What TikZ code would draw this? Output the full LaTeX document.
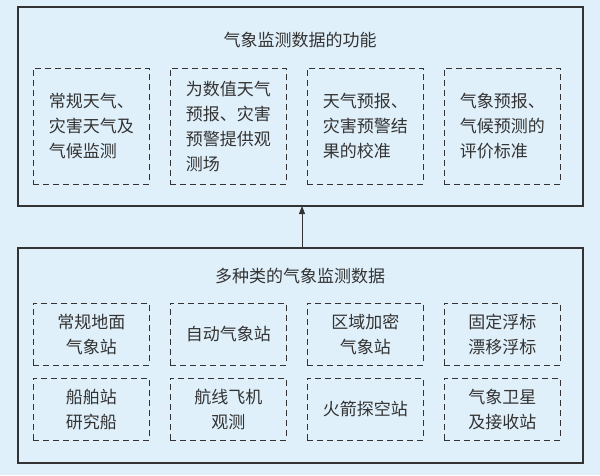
\documentclass[tikz,border=0pt]{standalone}
\usepackage{fontspec}
\newfontfamily\cjk{Noto Sans CJK SC}
\usetikzlibrary{arrows.meta}
\definecolor{bg}{HTML}{E0F0FA}
\definecolor{ln}{HTML}{333333}
\begin{document}
\begin{tikzpicture}[x=1pt,y=-1pt,
  outer/.style={draw=ln,line width=1.1pt},
  dbox/.style={draw=ln,line width=0.9pt,dash pattern=on 6pt off 4pt,minimum width=116pt,anchor=north west,inner sep=0pt,align=center,font=\cjk\fontsize{17}{25}\selectfont,text=ln},
  lbox/.style={dbox,align=left},
  title/.style={font=\cjk\fontsize{17}{20}\selectfont,text=ln}]
\fill[bg] (0,0) rectangle (600,475);
\useasboundingbox (0,0) rectangle (600,475);
\draw[outer] (18,7) rectangle (583,206);
\draw[outer] (18,248) rectangle (583,463);
\node[title] (t1) at (300,40) {气象监测数据的功能};
\node[title] (t2) at (300,276) {多种类的气象监测数据};
\node[lbox,minimum height=116pt] (a1) at (33,68) {常规天气、\\灾害天气及\\气候监测};
\node[lbox,minimum height=116pt] (a2) at (170,68) {为数值天气\\预报、灾害\\预警提供观\\测场};
\node[lbox,minimum height=116pt] (a3) at (307,68) {天气预报、\\灾害预警结\\果的校准};
\node[lbox,minimum height=116pt] (a4) at (444,68) {气象预报、\\气候预测的\\评价标准};
\node[dbox,minimum height=62pt] (b1) at (33,303) {常规地面\\气象站};
\node[dbox,minimum height=62pt] (b2) at (170,303) {自动气象站};
\node[dbox,minimum height=62pt] (b3) at (307,303) {区域加密\\气象站};
\node[dbox,minimum height=62pt] (b4) at (444,303) {固定浮标\\漂移浮标};
\node[dbox,minimum height=62pt] (c1) at (33,378) {船舶站\\研究船};
\node[dbox,minimum height=62pt] (c2) at (170,378) {航线飞机\\观测};
\node[dbox,minimum height=62pt] (c3) at (307,378) {火箭探空站};
\node[dbox,minimum height=62pt] (c4) at (444,378) {气象卫星\\及接收站};
\coordinate (p1) at (302,248);
\coordinate (p2) at (302,206);
\draw[ln,line width=0.9pt,-{Triangle[length=8pt,width=6pt]}] (p1) -- (p2);
\end{tikzpicture}
\end{document}
